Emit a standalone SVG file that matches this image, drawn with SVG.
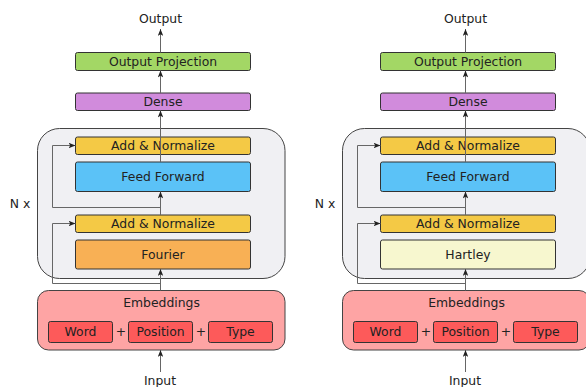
<svg xmlns="http://www.w3.org/2000/svg" width="586" height="387" viewBox="0 0 586 387">
<defs>
<marker id="ah" viewBox="0 0 10 8" refX="10" refY="4" markerWidth="7" markerHeight="5.6" markerUnits="userSpaceOnUse" orient="auto">
<path d="M0,0 L10,4 L0,8 L2.5,4 Z" fill="#222"/>
</marker>
</defs>
<style>
text{font-family:"DejaVu Sans","Liberation Sans",sans-serif;font-size:12.4px;fill:#222;text-anchor:middle}
.box{stroke:#333;stroke-width:1}
.cont{fill:#f0f0f3;stroke:#444;stroke-width:1}
.ar{fill:none;stroke:#666;stroke-width:1;marker-end:url(#ah)}
.op{fill:#a3d765}
.de{fill:#d18bdc}
.an{fill:#f4c945}
.ff{fill:#5bc2f7}
.fo{fill:#f8b055}
.ha{fill:#f7f7cf}
.em{fill:#fea4a4;stroke:#444;stroke-width:1}
.tk{fill:#fd5a5a}
</style>

<!-- Left: FNet Fourier -->
<g id="left">
<g id="L-container"><rect class="cont" x="37.5" y="128.5" width="247.5" height="150" rx="22"/></g>
<g id="L-nx"><text x="20" y="208">N x</text></g>
<g id="L-output-label"><text x="160.5" y="23">Output</text></g>
<g id="L-outproj"><rect class="box op" x="75.5" y="52.5" width="175" height="18" rx="2"/><text x="163" y="66">Output Projection</text></g>
<g id="L-dense"><rect class="box de" x="75.5" y="93" width="175" height="17.5" rx="2"/><text x="163" y="106">Dense</text></g>
<g id="L-addnorm1"><rect class="box an" x="75.5" y="137" width="175" height="17.5" rx="2"/><text x="163" y="150">Add &amp; Normalize</text></g>
<g id="L-ff"><rect class="box ff" x="75.5" y="162" width="175" height="29.5" rx="2"/><text x="163" y="181">Feed Forward</text></g>
<g id="L-addnorm2"><rect class="box an" x="75.5" y="215" width="175" height="17.5" rx="2"/><text x="163" y="228">Add &amp; Normalize</text></g>
<g id="L-fourier"><rect class="box fo" x="75.5" y="240" width="175" height="29" rx="2"/><text x="163" y="259">Fourier</text></g>
<g id="L-embeddings"><rect class="em" x="37.5" y="290.5" width="247.5" height="59.5" rx="11"/><text x="161.5" y="306.5">Embeddings</text></g>
<g id="L-word"><rect class="box tk" x="48.5" y="321.5" width="64" height="21" rx="2"/><text x="80.5" y="336">Word</text></g>
<g id="L-plus1"><text x="121" y="336">+</text></g>
<g id="L-position"><rect class="box tk" x="128.5" y="321.5" width="64" height="21" rx="2"/><text x="160.5" y="336">Position</text></g>
<g id="L-plus2"><text x="201" y="336">+</text></g>
<g id="L-type"><rect class="box tk" x="208.5" y="321.5" width="64" height="21" rx="2"/><text x="240.5" y="336">Type</text></g>
<g id="L-input-label"><text x="160" y="384.5">Input</text></g>
<g id="L-connectors">
<line class="ar" x1="160.5" y1="372" x2="160.5" y2="350"/>
<line class="ar" x1="160.5" y1="290.5" x2="160.5" y2="269"/>
<line class="ar" x1="160.5" y1="215" x2="160.5" y2="191.5"/>
<line class="ar" x1="160.5" y1="162" x2="160.5" y2="110.5"/>
<line class="ar" x1="160.5" y1="93" x2="160.5" y2="70.5"/>
<line class="ar" x1="160.5" y1="52.5" x2="160.5" y2="29"/>
<polyline class="ar" points="160.5,283.5 52.5,283.5 52.5,223.5 75.5,223.5"/>
<polyline class="ar" points="160.5,207.5 52.5,207.5 52.5,145.5 75.5,145.5"/>
</g>
</g>

<!-- Right: FNet Hartley -->
<g id="right" transform="translate(305,0)">
<g id="R-container"><rect class="cont" x="37.5" y="128.5" width="247.5" height="150" rx="22"/></g>
<g id="R-nx"><text x="20" y="208">N x</text></g>
<g id="R-output-label"><text x="160.5" y="23">Output</text></g>
<g id="R-outproj"><rect class="box op" x="75.5" y="52.5" width="175" height="18" rx="2"/><text x="163" y="66">Output Projection</text></g>
<g id="R-dense"><rect class="box de" x="75.5" y="93" width="175" height="17.5" rx="2"/><text x="163" y="106">Dense</text></g>
<g id="R-addnorm1"><rect class="box an" x="75.5" y="137" width="175" height="17.5" rx="2"/><text x="163" y="150">Add &amp; Normalize</text></g>
<g id="R-ff"><rect class="box ff" x="75.5" y="162" width="175" height="29.5" rx="2"/><text x="163" y="181">Feed Forward</text></g>
<g id="R-addnorm2"><rect class="box an" x="75.5" y="215" width="175" height="17.5" rx="2"/><text x="163" y="228">Add &amp; Normalize</text></g>
<g id="R-hartley"><rect class="box ha" x="75.5" y="240" width="175" height="29" rx="2"/><text x="163" y="259">Hartley</text></g>
<g id="R-embeddings"><rect class="em" x="37.5" y="290.5" width="247.5" height="59.5" rx="11"/><text x="161.5" y="306.5">Embeddings</text></g>
<g id="R-word"><rect class="box tk" x="48.5" y="321.5" width="64" height="21" rx="2"/><text x="80.5" y="336">Word</text></g>
<g id="R-plus1"><text x="121" y="336">+</text></g>
<g id="R-position"><rect class="box tk" x="128.5" y="321.5" width="64" height="21" rx="2"/><text x="160.5" y="336">Position</text></g>
<g id="R-plus2"><text x="201" y="336">+</text></g>
<g id="R-type"><rect class="box tk" x="208.5" y="321.5" width="64" height="21" rx="2"/><text x="240.5" y="336">Type</text></g>
<g id="R-input-label"><text x="160" y="384.5">Input</text></g>
<g id="R-connectors">
<line class="ar" x1="160.5" y1="372" x2="160.5" y2="350"/>
<line class="ar" x1="160.5" y1="290.5" x2="160.5" y2="269"/>
<line class="ar" x1="160.5" y1="215" x2="160.5" y2="191.5"/>
<line class="ar" x1="160.5" y1="162" x2="160.5" y2="110.5"/>
<line class="ar" x1="160.5" y1="93" x2="160.5" y2="70.5"/>
<line class="ar" x1="160.5" y1="52.5" x2="160.5" y2="29"/>
<polyline class="ar" points="160.5,283.5 52.5,283.5 52.5,223.5 75.5,223.5"/>
<polyline class="ar" points="160.5,207.5 52.5,207.5 52.5,145.5 75.5,145.5"/>
</g>
</g>
</svg>
